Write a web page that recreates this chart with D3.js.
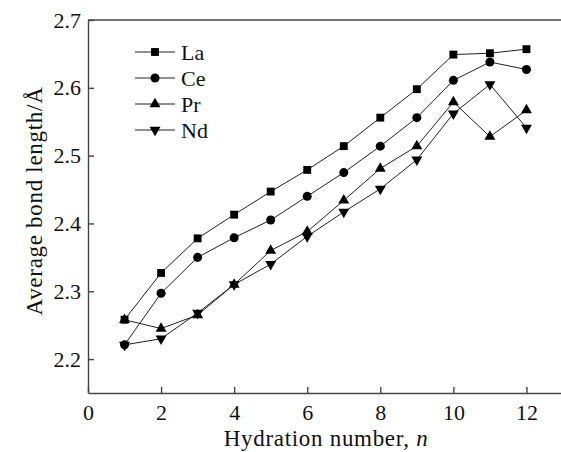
<!DOCTYPE html>
<html lang="en">
<head>
    <meta charset="UTF-8">
    <title>Average bond length vs hydration number</title>
    <script src="https://d3js.org/d3.v7.min.js"></script>
    <style>
        body {
            margin: 0;
            background: #fff;
            overflow: hidden;
        }
        svg text {
            font-family: "Liberation Serif", "DejaVu Serif", serif;
            fill: #111;
        }
        .axis path,
        .axis line {
            stroke: #444;
            stroke-width: 1.4px;
        }
        .axis-title {
            letter-spacing: 0.7px;
        }
        .series-line {
            fill: none;
            stroke: #222;
            stroke-width: 1px;
        }
    </style>
</head>
<body>
    <div id="chart"></div>

    <script>
        // data
        const hydration = [1, 2, 3, 4, 5, 6, 7, 8, 9, 10, 11, 12];
        const laValues = [2.258, 2.327, 2.378, 2.413, 2.447, 2.479, 2.514, 2.556, 2.598, 2.649, 2.651, 2.657];
        const ceValues = [2.221, 2.297, 2.350, 2.379, 2.405, 2.440, 2.475, 2.514, 2.556, 2.611, 2.638, 2.627];
        const prValues = [2.258, 2.245, 2.265, 2.310, 2.360, 2.388, 2.434, 2.481, 2.514, 2.579, 2.528, 2.567];
        const ndValues = [2.221, 2.230, 2.268, 2.310, 2.340, 2.381, 2.417, 2.451, 2.494, 2.562, 2.605, 2.541];
        const seriesNames = ["La", "Ce", "Pr", "Nd"];
        const xTicks = [0, 2, 4, 6, 8, 10, 12];
        const yTicks = [2.2, 2.3, 2.4, 2.5, 2.6, 2.7];

        function drawChart() {
            const width = 561, height = 452;
            const margin = { top: 20, right: -2, bottom: 59, left: 88 };

            const svg = d3.select("#chart").append("svg")
                .attr("width", width)
                .attr("height", height);

            const x = d3.scaleLinear()
                .domain([0, 13])
                .range([margin.left, width - margin.right]);
            const y = d3.scaleLinear()
                .domain([2.15, 2.7])
                .range([height - margin.bottom, margin.top]);

            // frame: top line
            svg.append("line")
                .attr("x1", x(0)).attr("x2", x(13))
                .attr("y1", y(2.7)).attr("y2", y(2.7))
                .attr("stroke", "#444")
                .attr("stroke-width", 1.4);

            // axes with inward ticks
            svg.append("g")
                .attr("class", "axis")
                .attr("transform", `translate(0,${y(2.15)})`)
                .call(d3.axisBottom(x).tickValues(xTicks).tickSizeInner(-6).tickSizeOuter(0).tickPadding(11))
                .call(g => g.selectAll("text").attr("font-size", 22));

            svg.append("g")
                .attr("class", "axis")
                .attr("transform", `translate(${x(0)},0)`)
                .call(d3.axisLeft(y).tickValues(yTicks).tickFormat(d3.format(".1f")).tickSizeInner(-6).tickSizeOuter(0).tickPadding(7))
                .call(g => g.selectAll("text").attr("font-size", 22));

            // axis titles
            const xTitle = svg.append("text")
                .attr("class", "axis-title")
                .attr("x", 326)
                .attr("y", 446)
                .attr("text-anchor", "middle")
                .attr("font-size", 23);
            xTitle.append("tspan").text("Hydration number, ");
            xTitle.append("tspan").attr("font-style", "italic").text("n");

            svg.append("text")
                .attr("class", "axis-title")
                .attr("transform", "translate(42,201) rotate(-90)")
                .attr("text-anchor", "middle")
                .attr("font-size", 23)
                .text("Average bond length/Å");

            // series
            const allValues = [laValues, ceValues, prValues, ndValues];
            const symbols = [
                { type: d3.symbolSquare, size: 62, rotate: 0 },
                { type: d3.symbolCircle, size: 64, rotate: 0 },
                { type: d3.symbolTriangle, size: 52, rotate: 0 },
                { type: d3.symbolTriangle, size: 52, rotate: 180 }
            ];

            const line = d3.line()
                .x(d => x(d[0]))
                .y(d => y(d[1]));

            allValues.forEach((vals, i) => {
                const pts = hydration.map((h, j) => [h, vals[j]]);
                svg.append("path")
                    .attr("class", "series-line")
                    .attr("d", line(pts));

                svg.append("g").selectAll("path")
                    .data(pts)
                    .enter()
                    .append("path")
                    .attr("d", d3.symbol().type(symbols[i].type).size(symbols[i].size))
                    .attr("transform", d => `translate(${x(d[0])},${y(d[1])}) rotate(${symbols[i].rotate})`)
                    .attr("fill", "#000");
            });

            // legend
            const legend = svg.append("g")
                .attr("transform", "translate(135,52)");
            seriesNames.forEach((name, i) => {
                const row = legend.append("g")
                    .attr("transform", `translate(0,${i * 26})`);
                row.append("line")
                    .attr("class", "series-line")
                    .attr("x1", 0).attr("x2", 40)
                    .attr("y1", 0).attr("y2", 0);
                row.append("path")
                    .attr("d", d3.symbol().type(symbols[i].type).size(symbols[i].size))
                    .attr("transform", `translate(20,0) rotate(${symbols[i].rotate})`)
                    .attr("fill", "#000");
                row.append("text")
                    .attr("x", 46)
                    .attr("y", 8)
                    .attr("font-size", 22)
                    .text(name);
            });
        }

        drawChart();
    </script>
</body>
</html>
